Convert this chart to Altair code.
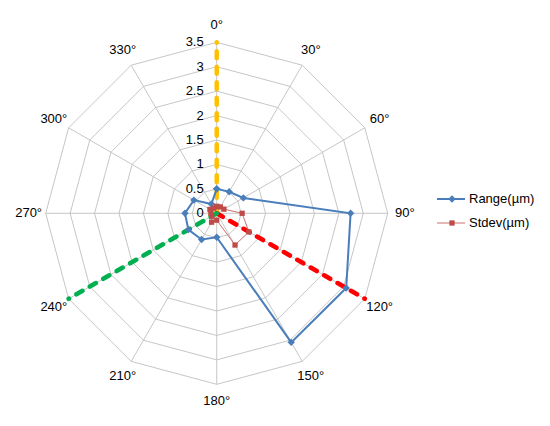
import altair as alt
import pandas as pd

# ---- data ----
angles = [0, 30, 60, 90, 120, 150, 180, 210, 240, 270, 300, 330]
angle_labels = ["0°", "30°", "60°", "90°", "120°", "150°", "180°", "210°", "240°", "270°", "300°", "330°"]
range_vals = [0.50, 0.51, 0.63, 2.74, 3.06, 3.05, 0.49, 0.62, 0.67, 0.65, 0.54, 0.22]
stdev_vals = [0.14, 0.15, 0.17, 0.52, 0.76, 0.75, 0.14, 0.21, 0.12, 0.12, 0.16, 0.12]
series_names = ["Range(µm)", "Stdev(µm)"]
ring_levels = [0.5, 1.0, 1.5, 2.0, 2.5, 3.0, 3.5]
tick_values = [0, 0.5, 1, 1.5, 2, 2.5, 3, 3.5]
tick_labels = ["0", "0.5", "1", "1.5", "2", "2.5", "3", "3.5"]
dash_angles = [0, 120, 240]
dash_values = [3.5, 3.5, 3.5]
dash_colors = ["#FFC000", "#FF0000", "#00B050"]

R_MAX = 3.5
LABEL_R = 3.85

# ---- tables ----
n = len(angles)
ring_df = pd.DataFrame(
    [{"ring": r, "k": i, "angle": angles[i % n], "r": r} for r in ring_levels for i in range(n + 1)]
)
spoke_df = pd.DataFrame(
    [{"angle": a, "k": j, "r": rv} for a in angles for j, rv in enumerate([0.0, R_MAX])]
)
label_df = pd.DataFrame({"angle": angles, "label": angle_labels, "r": [LABEL_R] * n})
tick_df = pd.DataFrame({"v": tick_values, "label": tick_labels})


def series_df(vals, name):
    return pd.DataFrame(
        [{"series": name, "k": i, "angle": angles[i % n], "r": vals[i % n]} for i in range(n + 1)]
    )


range_df = series_df(range_vals, series_names[0])
stdev_df = series_df(stdev_vals, series_names[1])
dash_df = pd.DataFrame(
    [{"id": i, "k": j, "angle": a, "r": rv}
     for i, (a, v) in enumerate(zip(dash_angles, dash_values)) for j, rv in enumerate([0.0, v])]
)

# ---- scales: equal units on both axes ----
PX = 48.857  # pixels per unit
XMIN = -4.272
W = 534
H = 410
YMAX = 4.202
xs = alt.Scale(domain=[XMIN, XMIN + W / PX], nice=False, zero=False)
ys = alt.Scale(domain=[YMAX - H / PX, YMAX], nice=False, zero=False)


def polar(chart):
    return chart.transform_calculate(
        px="datum.r * sin(datum.angle * PI / 180)",
        py="datum.r * cos(datum.angle * PI / 180)",
    )


X = alt.X("px:Q", scale=xs, axis=None)
Y = alt.Y("py:Q", scale=ys, axis=None)
FONT = "Liberation Sans"

grid_color = "#BFBFBF"
rings = polar(alt.Chart(ring_df)).mark_line(color=grid_color, strokeWidth=0.9).encode(
    x=X, y=Y, detail="ring:N", order="k:Q"
)
spokes = polar(alt.Chart(spoke_df)).mark_line(color=grid_color, strokeWidth=0.9).encode(
    x=X, y=Y, detail="angle:N", order="k:Q"
)
angle_text = polar(alt.Chart(label_df)).mark_text(
    font=FONT, fontSize=13, color="#000000", align="center", baseline="middle"
).encode(x=X, y=Y, text="label:N")
tick_text = alt.Chart(tick_df).mark_text(
    font=FONT, fontSize=13, color="#000000", align="right", baseline="middle", dx=-13
).encode(x=alt.X("zero:Q", scale=xs, axis=None), y=alt.Y("v:Q", scale=ys, axis=None), text="label:N").transform_calculate(zero="0")

dashes = polar(alt.Chart(dash_df)).mark_line(
    strokeWidth=4.5, strokeDash=[7, 8.5], strokeCap="round"
).encode(
    x=X, y=Y, detail="id:N", order="k:Q",
    color=alt.Color("id:N", scale=alt.Scale(domain=[0, 1, 2], range=dash_colors), legend=None),
)

BLUE = "#4A7EBB"
RED = "#BE4B48"
range_line = polar(alt.Chart(range_df)).mark_line(color=BLUE, strokeWidth=2).encode(x=X, y=Y, order="k:Q")
range_pts = polar(alt.Chart(range_df)).mark_point(
    shape="diamond", filled=True, color=BLUE, size=55, opacity=1
).encode(x=X, y=Y)
stdev_line = polar(alt.Chart(stdev_df)).mark_line(color="#C9706D", strokeWidth=1).encode(x=X, y=Y, order="k:Q")
stdev_pts = polar(alt.Chart(stdev_df)).mark_point(
    shape="square", filled=True, color=RED, size=28, opacity=1
).encode(x=X, y=Y)

# ---- legend (drawn, to show line + marker like the original) ----
legend_layers = []
legend_specs = [(series_names[0], BLUE, 2, "diamond", 55, 191),
                (series_names[1], "#C9706D", 1, "square", 28, 215)]
leg_df = pd.DataFrame({"name": series_names})
for i, (name, col, sw, shp, sz, ly) in enumerate(legend_specs):
    one = alt.Chart(leg_df).transform_filter(alt.datum.name == name)
    legend_layers.append(one.mark_rule(color=col, strokeWidth=sw).encode(
        x=alt.value(429), x2=alt.value(457), y=alt.value(ly)))
    legend_layers.append(one.mark_point(shape=shp, filled=True, size=sz, opacity=1,
                                        color=BLUE if i == 0 else RED).encode(
        x=alt.value(444), y=alt.value(ly)))
    legend_layers.append(one.mark_text(font=FONT, fontSize=13, color="#000000",
                                       align="left", baseline="middle").encode(
        x=alt.value(461), y=alt.value(ly), text="name:N"))

chart = alt.layer(
    rings, spokes, dashes, range_line, range_pts, stdev_line, stdev_pts,
    angle_text, tick_text, *legend_layers
).properties(width=W, height=H, padding=0).configure(
    background="#FFFFFF", view=alt.ViewConfig(stroke=None)
)

chart.save("out.html", embed_options={"renderer": "svg", "actions": False})
